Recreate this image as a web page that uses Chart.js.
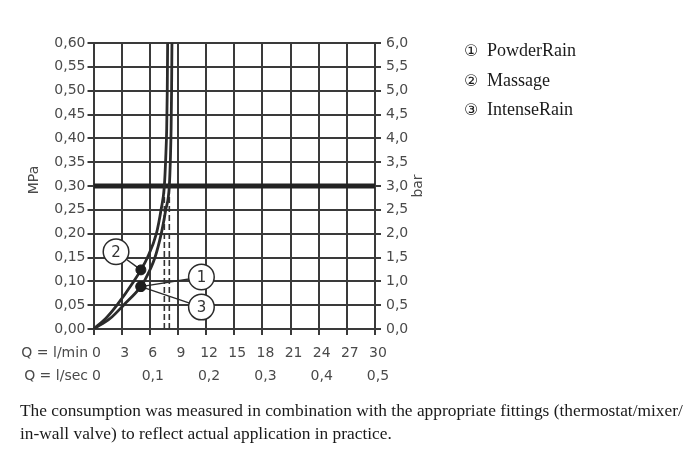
<!DOCTYPE html>
<html><head><meta charset="utf-8">
<script src="https://cdn.jsdelivr.net/npm/chart.js@4.4.0/dist/chart.umd.min.js"></script>
<style>
html,body{margin:0;padding:0;background:#fff;}
#wrap{position:relative;width:697px;height:470px;overflow:hidden;background:#fff;}
canvas{position:absolute;left:0;top:0;}
#legend{position:absolute;left:464px;top:36px;font-family:"Liberation Serif","Times New Roman",serif;font-size:18px;line-height:28.5px;color:#1a1a1a;white-space:nowrap;}
#legend .n{display:inline-block;width:23px;font-family:"DejaVu Sans",sans-serif;font-size:16px;}
#note{position:absolute;left:20px;top:399px;font-family:"Liberation Serif","Times New Roman",serif;font-size:17.35px;line-height:23px;color:#1a1a1a;white-space:nowrap;}
</style></head>
<body><div id="wrap"><canvas id="c" width="697" height="470"></canvas>
<div id="legend"></div><div id="note"></div></div>
<script>
// ---- data ----
const seriesNames   = ['PowderRain', 'Massage', 'IntenseRain'];
const seriesMarks   = ['\u2460', '\u2461', '\u2462'];
const seriesNumbers = ['1', '2', '3'];

// Massage curve (flow l/min, pressure MPa)
const massageFlow     = [0, 1.3, 2.5, 4.3, 5.05, 5.75, 6.7, 7.2, 7.55, 7.7, 7.8, 7.86, 7.9];
const massagePressure = [0, 0.022, 0.05, 0.10, 0.124, 0.15, 0.20, 0.25, 0.30, 0.36, 0.42, 0.50, 0.60];
// PowderRain / IntenseRain curve
const rainFlow     = [0, 1.8, 3.2, 5.05, 5.4, 6.55, 7.22, 7.7, 8.08, 8.2, 8.27, 8.32, 8.36];
const rainPressure = [0, 0.0225, 0.05, 0.089, 0.10, 0.15, 0.20, 0.25, 0.30, 0.36, 0.42, 0.50, 0.60];

// operating points: PowderRain, Massage, IntenseRain
const operatingFlow     = [5.05, 5.05, 5.05];
const operatingPressure = [0.089, 0.124, 0.089];

const referencePressure = 0.30;          // thick line at 3 bar
const limitFlows = [7.55, 8.08];         // dashed flow lines at 3 bar

// tick labels
const flowTicksLpm = [0, 3, 6, 9, 12, 15, 18, 21, 24, 27, 30];
const flowTicksSec = [0, 0.1, 0.2, 0.3, 0.4, 0.5];
const pressureTicksMPa = [0, 0.05, 0.10, 0.15, 0.20, 0.25, 0.30, 0.35, 0.40, 0.45, 0.50, 0.55, 0.60];
const pressureTicksBar = [0, 0.5, 1, 1.5, 2, 2.5, 3, 3.5, 4, 4.5, 5, 5.5, 6];

const noteLines = ['The consumption was measured in combination with the appropriate fittings (thermostat/mixer/',
                   'in-wall valve) to reflect actual application in practice.'];

// ---- html text ----
document.getElementById('legend').innerHTML = seriesNames.map((n, i) =>
  '<div><span class="n">' + seriesMarks[i] + '</span>' + n + '</div>').join('');
document.getElementById('note').innerHTML = noteLines.join('<br>');

// ---- chart ----
const INK = '#2b2b2b', GRID = '#3a3a3a', TXT = '#4a4a4a';
const tickFont = {family: 'DejaVu Sans', size: 14};
const comma = (v, d) => v.toFixed(d).replace('.', ',');
const pts = (xs, ys) => xs.map((x, i) => ({x, y: ys[i]}));

const calloutPlugin = {
  id: 'callouts',
  beforeDatasetsDraw(chart, args, opts) {
    const {ctx, scales: {x, y}} = chart;
    ctx.save();
    opts.items.forEach(it => {
      const px = x.getPixelForValue(it.pos[0]), py = y.getPixelForValue(it.pos[1]);
      const tx = x.getPixelForValue(operatingFlow[it.series]), ty = y.getPixelForValue(operatingPressure[it.series]);
      ctx.strokeStyle = INK; ctx.lineWidth = 1.4;
      ctx.beginPath(); ctx.moveTo(tx, ty); ctx.lineTo(px, py); ctx.stroke();
    });
    opts.items.forEach(it => {
      const px = x.getPixelForValue(it.pos[0]), py = y.getPixelForValue(it.pos[1]);
      ctx.beginPath(); ctx.arc(px, py, 12.8, 0, Math.PI * 2);
      ctx.fillStyle = '#fff'; ctx.fill();
      ctx.strokeStyle = INK; ctx.lineWidth = 1.5; ctx.stroke();
      ctx.fillStyle = '#333'; ctx.font = '15px "DejaVu Sans"';
      ctx.textAlign = 'center'; ctx.textBaseline = 'middle';
      ctx.fillText(seriesNumbers[it.series], px, py + 1);
    });
    ctx.restore();
  }
};

const textPlugin = {
  id: 'axisTexts',
  afterDraw(chart) {
    const {ctx} = chart;
    ctx.save();
    ctx.fillStyle = TXT; ctx.font = '14px "DejaVu Sans"';
    ctx.textBaseline = 'middle';
    ctx.textAlign = 'right';
    ctx.fillText('Q = l/min', 88, 353);
    ctx.fillText('Q = l/sec', 88, 376);
    ctx.textAlign = 'center';
    ctx.save();
    ctx.translate(34, 180); ctx.rotate(-Math.PI / 2); ctx.fillText('MPa', 0, 0);
    ctx.restore();
    ctx.save();
    ctx.translate(418, 186); ctx.rotate(-Math.PI / 2); ctx.fillText('bar', 0, 0);
    ctx.restore();
    ctx.restore();
  }
};

new Chart(document.getElementById('c'), {
  type: 'scatter',
  data: {
    datasets: [
      {data: pts(operatingFlow, operatingPressure), pointRadius: 5, pointHoverRadius: 5,
       backgroundColor: '#1e1e1e', borderColor: '#1e1e1e', showLine: false, order: 0},
      {data: pts(massageFlow, massagePressure), showLine: true, pointRadius: 0, borderColor: INK,
       borderWidth: 2.8, cubicInterpolationMode: 'monotone', order: 1},
      {data: pts(rainFlow, rainPressure), showLine: true, pointRadius: 0, borderColor: INK,
       borderWidth: 2.8, cubicInterpolationMode: 'monotone', order: 1},
      {data: [{x: flowTicksLpm[0], y: referencePressure}, {x: flowTicksLpm[flowTicksLpm.length - 1], y: referencePressure}],
       showLine: true, pointRadius: 0, borderColor: '#222', borderWidth: 5, order: 2},
      ...limitFlows.map(f => ({data: [{x: f, y: 0}, {x: f, y: referencePressure}], showLine: true, pointRadius: 0,
       borderColor: '#333', borderWidth: 1.6, borderDash: [6, 3], order: 3}))
    ]
  },
  options: {
    responsive: false, animation: false, events: [],
    layout: {padding: {top: 43, left: 0, right: 0, bottom: 0}},
    plugins: {legend: {display: false}, tooltip: {enabled: false},
      callouts: {items: [
        {series: 1, pos: [2.4, 0.162]},
        {series: 0, pos: [11.5, 0.109]},
        {series: 2, pos: [11.5, 0.046]}
      ]}},
    scales: {
      x: {type: 'linear', position: 'bottom', weight: 0, min: 0, max: 30,
        afterBuildTicks: s => { s.ticks = flowTicksLpm.map(v => ({value: v})); },
        afterFit: s => { s.height = 34; },
        grid: {color: GRID, lineWidth: 2, tickLength: 6, drawTicks: true},
        border: {color: GRID, width: 2},
        ticks: {autoSkip: false, maxRotation: 0, padding: 10, labelOffset: 3, color: TXT, font: tickFont,
          callback: v => String(v)}},
      x2: {type: 'linear', position: 'bottom', weight: 1, min: 0, max: 0.5,
        afterBuildTicks: s => { s.ticks = flowTicksSec.map(v => ({value: v})); },
        afterFit: s => { s.height = 470 - 329 - 34; },
        grid: {display: false, drawTicks: false}, border: {display: false},
        ticks: {autoSkip: false, maxRotation: 0, padding: 4.6, labelOffset: 3, color: TXT, font: tickFont,
          callback: v => v === 0 ? '0' : comma(v, 1)}},
      y: {type: 'linear', position: 'left', min: 0, max: 0.6,
        afterBuildTicks: s => { s.ticks = pressureTicksMPa.map(v => ({value: v})); },
        afterFit: s => { s.width = 93.5; },
        grid: {color: GRID, lineWidth: 2, tickLength: 6},
        border: {color: GRID, width: 2},
        ticks: {padding: 2, color: TXT, font: tickFont, callback: v => comma(v, 2)}},
      y2: {type: 'linear', position: 'right', min: 0, max: 6,
        afterBuildTicks: s => { s.ticks = pressureTicksBar.map(v => ({value: v})); },
        afterFit: s => { s.width = 697 - 375; },
        grid: {drawOnChartArea: false, color: GRID, lineWidth: 2, tickLength: 6},
        border: {color: GRID, width: 2},
        ticks: {padding: 5, color: TXT, font: tickFont, callback: v => comma(v, 1)}}
    }
  },
  plugins: [calloutPlugin, textPlugin]
});
</script>
</body></html>
